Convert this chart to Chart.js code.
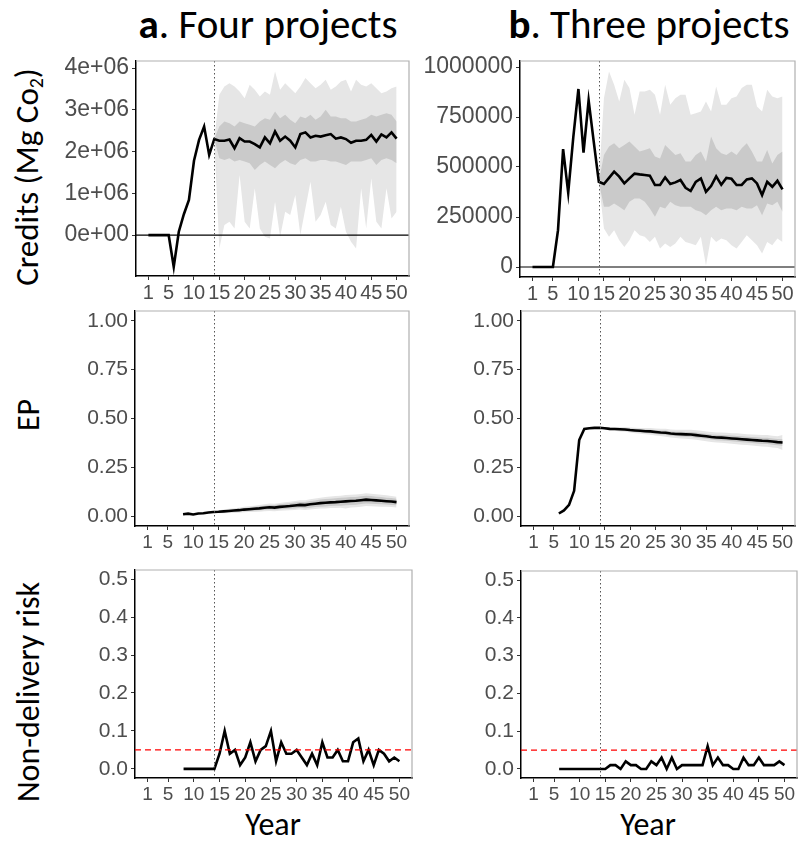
<!DOCTYPE html>
<html>
<head>
<meta charset="utf-8">
<script src="https://cdn.jsdelivr.net/npm/chart.js@4.4.1/dist/chart.umd.min.js"></script>
<style>
  body { margin: 0; background: #fff; width: 799px; height: 843px; position: relative; overflow: hidden;
         font-family: Carlito, Lato, "Open Sans", sans-serif; }
  canvas { position: absolute; }
  .lbl { position: absolute; color: #000; white-space: nowrap; line-height: 1; transform: translate(-50%, -50%); }
  .rot { transform: translate(-50%, -50%) rotate(-90deg); }
  .ttl { font-size: 41px; }
  .ytl { font-size: 32px; }
  sub { font-size: 60%; vertical-align: -0.25em; }
</style>
</head>
<body>
<div class="lbl ttl" style="left:268px;top:24px"><b>a</b>. Four projects</div>
<div class="lbl ttl" style="left:649px;top:24px"><b>b</b>. Three projects</div>
<div class="lbl rot ytl" style="left:29px;top:177px;font-size:33px">Credits (Mg Co<sub>2</sub>)</div>
<div class="lbl rot ytl" style="left:29px;top:415px">EP</div>
<div class="lbl rot ytl" style="left:29px;top:692px">Non-delivery risk</div>
<div class="lbl ytl" style="left:273px;top:825px">Year</div>
<div class="lbl ytl" style="left:648px;top:825px">Year</div>

<canvas id="creditsA" style="left:40px;top:52px" width="375" height="250"></canvas>
<canvas id="creditsB" style="left:400px;top:52px" width="399" height="250"></canvas>
<canvas id="epA" style="left:40px;top:302px" width="375" height="250"></canvas>
<canvas id="epB" style="left:400px;top:302px" width="399" height="250"></canvas>
<canvas id="riskA" style="left:40px;top:560px" width="375" height="245"></canvas>
<canvas id="riskB" style="left:400px;top:560px" width="399" height="245"></canvas>

<script>
var yearTicks = [1, 5, 10, 15, 20, 25, 30, 35, 40, 45, 50];
var projectionStart = 14;
var riskThreshold = 0.05;

// credits, panel a (years 1-50)
var creditsA = [0, 0, 0, 0, 0, -0.76e6, 0.08e6, 0.5e6, 0.84e6, 1.78e6, 2.28e6, 2.6e6, 1.92e6, 2.3e6,
  2.26e6, 2.26e6, 2.29e6, 2.08e6, 2.32e6, 2.24e6, 2.24e6, 2.18e6, 2.1e6, 2.34e6, 2.2e6, 2.48e6,
  2.26e6, 2.36e6, 2.26e6, 2.1e6, 2.42e6, 2.46e6, 2.34e6, 2.38e6, 2.36e6, 2.39e6, 2.42e6, 2.31e6,
  2.34e6, 2.3e6, 2.21e6, 2.26e6, 2.26e6, 2.28e6, 2.4e6, 2.24e6, 2.41e6, 2.34e6, 2.46e6, 2.31e6];
// bands, years 14-50
var creditsALightLo = [2.3e6, -0.32e6, 0.24e6, 0.32e6, 0.16e6, 1.44e6, 0.32e6, 0.16e6, 1.12e6, 0.16e6,
  -0.04e6, -0.08e6, 0.8e6, -0.04e6, 0.56e6, 0.48e6, 0.96e6, 0, 0.64e6, 1.28e6, 0.32e6, 0.48e6, 0.8e6,
  0.24e6, 0.16e6, 0.68e6, 0.08e6, -0.16e6, -0.32e6, 1.12e6, 0.16e6, 1.36e6, 0.32e6, 0.16e6, 1.12e6, 0.4e6, 0.56e6];
var creditsALightHi = [2.3e6, 3.36e6, 3.56e6, 3.64e6, 3.56e6, 3.44e6, 3.28e6, 3.6e6, 3.48e6, 3.32e6,
  3.44e6, 3.36e6, 3.92e6, 3.48e6, 3.64e6, 3.52e6, 3.4e6, 3.56e6, 3.76e6, 3.64e6, 3.52e6, 3.6e6, 3.72e6,
  3.48e6, 3.56e6, 3.68e6, 3.72e6, 3.44e6, 3.72e6, 3.6e6, 3.56e6, 3.64e6, 3.52e6, 3.4e6, 3.44e6, 3.52e6, 3.56e6];
var creditsADarkLo = [2.3e6, 1.84e6, 1.8e6, 1.84e6, 1.76e6, 1.8e6, 1.76e6, 1.72e6, 1.56e6, 1.68e6, 1.76e6,
  1.68e6, 1.6e6, 1.72e6, 1.8e6, 1.72e6, 1.68e6, 1.8e6, 1.84e6, 1.76e6, 1.76e6, 1.8e6, 1.8e6, 1.76e6,
  1.76e6, 1.72e6, 1.68e6, 1.76e6, 1.76e6, 1.76e6, 1.8e6, 1.84e6, 1.68e6, 1.8e6, 1.84e6, 1.8e6, 1.72e6];
var creditsADarkHi = [2.3e6, 2.6e6, 2.72e6, 2.68e6, 2.6e6, 2.72e6, 2.68e6, 2.64e6, 2.6e6, 2.72e6, 2.8e6,
  2.76e6, 2.96e6, 2.8e6, 2.88e6, 2.76e6, 2.68e6, 2.84e6, 2.8e6, 2.88e6, 2.76e6, 2.84e6, 3.0e6, 2.84e6,
  2.84e6, 2.8e6, 2.8e6, 2.72e6, 2.72e6, 2.76e6, 2.8e6, 2.88e6, 2.84e6, 2.88e6, 2.92e6, 2.88e6, 2.72e6];

// credits, panel b (years 1-50)
var creditsB = [0, 0, 0, 0, 0, 184000, 589000, 371000, 650000, 890000, 572000, 833000, 627000, 426000,
  415000, 446000, 477000, 452000, 418000, 443000, 467000, 463000, 460000, 457000, 410000, 410000,
  448000, 415000, 423000, 435000, 396000, 380000, 426000, 443000, 376000, 405000, 453000, 411000,
  445000, 441000, 410000, 410000, 438000, 443000, 418000, 360000, 426000, 401000, 431000, 388000];
var creditsBLightLo = [426000, 192000, 151000, 184000, 134000, 100000, 134000, 184000, 159000, 151000,
  125000, 151000, 92000, 117000, 100000, 117000, 151000, 125000, 117000, 109000, 151000, 8000, 151000,
  125000, 142000, 134000, 109000, 92000, 125000, 159000, 134000, 109000, 67000, 125000, 109000, 142000, 125000];
var creditsBLightHi = [426000, 844000, 978000, 911000, 828000, 936000, 895000, 761000, 878000, 878000,
  886000, 861000, 761000, 911000, 811000, 844000, 861000, 861000, 761000, 769000, 778000, 828000, 778000,
  903000, 811000, 811000, 844000, 853000, 895000, 911000, 911000, 803000, 778000, 886000, 853000, 844000, 853000];
var creditsBDarkLo = [426000, 301000, 301000, 318000, 301000, 284000, 326000, 343000, 343000, 326000,
  293000, 251000, 301000, 293000, 326000, 309000, 301000, 301000, 301000, 284000, 276000, 259000, 284000,
  301000, 284000, 293000, 293000, 284000, 301000, 293000, 293000, 309000, 259000, 318000, 309000, 326000, 276000];
var creditsBDarkHi = [426000, 560000, 602000, 619000, 594000, 610000, 627000, 602000, 577000, 585000,
  594000, 552000, 543000, 610000, 585000, 560000, 569000, 527000, 527000, 560000, 577000, 527000, 652000,
  594000, 569000, 560000, 577000, 560000, 594000, 619000, 577000, 527000, 527000, 585000, 518000, 560000, 577000];

// EP, panel a (years 8-50)
var epAStart = 8;
var epA = [0.010, 0.013, 0.009, 0.014, 0.015, 0.019, 0.022, 0.023, 0.025, 0.027, 0.029, 0.031, 0.034,
  0.036, 0.038, 0.040, 0.043, 0.046, 0.044, 0.048, 0.050, 0.052, 0.055, 0.058, 0.057, 0.061, 0.064,
  0.067, 0.069, 0.071, 0.072, 0.074, 0.076, 0.078, 0.079, 0.082, 0.085, 0.083, 0.081, 0.079, 0.077, 0.075, 0.072];
var epADarkLo = [.022, .019, .020, .021, .022, .024, .026, .027, .028, .030, .032, .034, .033, .036, .037,
  .038, .040, .043, .041, .044, .047, .049, .050, .052, .053, .054, .056, .058, .059, .062, .065, .064,
  .063, .061, .060, .058, .056];
var epADarkHi = [.022, .027, .030, .033, .036, .038, .042, .045, .048, .050, .054, .058, .057, .061, .064,
  .066, .070, .073, .073, .078, .081, .085, .088, .090, .092, .094, .096, .098, .099, .102, .105, .103,
  .100, .098, .095, .093, .089];
var epALightLo = [.022, .015, .015, .016, .017, .018, .020, .021, .022, .023, .025, .027, .025, .028, .029,
  .030, .032, .034, .032, .035, .037, .039, .040, .042, .042, .043, .040, .045, .046, .049, .052, .051,
  .050, .049, .048, .047, .045];
var epALightHi = [.022, .031, .035, .038, .041, .044, .048, .051, .054, .057, .061, .065, .064, .068, .071,
  .074, .078, .082, .082, .087, .091, .095, .098, .101, .103, .105, .108, .110, .111, .114, .117, .115,
  .112, .110, .107, .104, .100];

// EP, panel b (years 6-50)
var epBStart = 6;
var epB = [.014, .030, .058, .130, .390, .447, .450, .452, .453, .450, .447, .446, .445, .444, .441, .439,
  .437, .435, .434, .431, .428, .427, .423, .421, .420, .419, .418, .415, .412, .409, .405, .403, .402,
  .400, .398, .396, .394, .392, .390, .388, .386, .385, .382, .379, .377];
var epBDarkLo = [.453, .447, .443, .441, .439, .437, .434, .431, .429, .426, .425, .421, .418, .416, .412,
  .410, .408, .407, .405, .402, .399, .396, .392, .389, .388, .386, .383, .381, .379, .377, .375, .372,
  .370, .369, .366, .363, .360];
var epBDarkHi = [.453, .453, .451, .451, .451, .451, .448, .447, .445, .444, .443, .441, .438, .438, .434,
  .432, .432, .431, .431, .428, .425, .422, .418, .417, .416, .414, .413, .411, .409, .407, .405, .404,
  .402, .401, .398, .395, .394];
var epBLightLo = [.453, .444, .439, .437, .434, .432, .428, .425, .422, .419, .417, .413, .410, .407, .403,
  .400, .398, .396, .394, .391, .387, .384, .380, .377, .376, .373, .371, .368, .366, .364, .362, .359,
  .357, .355, .352, .349, .339];
var epBLightHi = [.453, .456, .455, .455, .456, .456, .454, .453, .452, .451, .451, .449, .447, .447, .444,
  .442, .442, .442, .442, .440, .437, .434, .431, .429, .428, .427, .425, .424, .422, .420, .418, .417,
  .415, .415, .412, .409, .415];

// non-delivery risk
var riskAStart = 8;
var riskA = [0, 0, 0, 0, 0, 0, 0, .04, .10, .04, .05, .01, .03, .07, .02, .05, .06, .10, .02, .07, .04,
  .04, .05, .03, .01, .04, .01, .07, .03, .03, .05, .02, .02, .07, .08, .02, .05, .01, .05, .04, .02, .03, .02];
var riskBStart = 6;
var riskB = [0, 0, 0, 0, 0, 0, 0, 0, 0, 0, .01, .01, 0, .02, .01, .01, 0, 0, .02, .01, .03, 0, .03, 0,
  .01, .01, .01, .01, .01, .06, .01, .03, .01, .01, 0, 0, .03, .01, .01, .03, .01, .01, .01, .02, .01];

// tick labels
var creditsATicks = [0, 1e6, 2e6, 3e6, 4e6];
var creditsATickLabels = ['0e+00', '1e+06', '2e+06', '3e+06', '4e+06'];
var creditsBTicks = [0, 250000, 500000, 750000, 1000000];
var creditsBTickLabels = ['0', '250000', '500000', '750000', '1000000'];
var epTicks = [0, 0.25, 0.5, 0.75, 1];
var epTickLabels = ['0.00', '0.25', '0.50', '0.75', '1.00'];
var riskTicks = [0, 0.1, 0.2, 0.3, 0.4, 0.5];
var riskTickLabels = ['0.0', '0.1', '0.2', '0.3', '0.4', '0.5'];

var LIGHT = '#e6e6e6', DARK = '#cacaca';
var TICK_GREY = '#4d4d4d';

function pts(start, arr) {
  return arr.map(function (v, i) { return { x: start + i, y: v }; });
}

// Chart.js paints the last dataset first, so: line, dark band, light band
function band(hi, lo, color) {
  return [
    { data: pts(projectionStart, hi), borderWidth: 0, pointRadius: 0, fill: '+1', backgroundColor: color },
    { data: pts(projectionStart, lo), borderWidth: 0, pointRadius: 0, fill: false }
  ];
}

function mainLine(start, arr) {
  return { data: pts(start, arr), borderColor: '#000', borderWidth: 2.6, pointRadius: 0, fill: false, tension: 0 };
}

var refLines = {
  id: 'refLines',
  afterDatasetsDraw: function (chart, args, o) {
    var ctx = chart.ctx, a = chart.chartArea;
    ctx.save();
    ctx.beginPath(); ctx.rect(a.left, a.top, a.width, a.height); ctx.clip();
    if (o.hline !== undefined) {
      var y = chart.scales.y.getPixelForValue(o.hline);
      ctx.strokeStyle = o.hlineColor; ctx.lineWidth = o.hlineWidth; ctx.setLineDash(o.hlineDash);
      ctx.beginPath(); ctx.moveTo(a.left, y); ctx.lineTo(a.right, y); ctx.stroke();
    }
    var x = Math.round(chart.scales.x.getPixelForValue(projectionStart)) + 0.5;
    ctx.strokeStyle = '#555'; ctx.lineWidth = 1; ctx.setLineDash([1.5, 2.5]);
    ctx.beginPath(); ctx.moveTo(x, a.top); ctx.lineTo(x, a.bottom); ctx.stroke();
    ctx.restore();
    ctx.save();
    ctx.strokeStyle = '#b0b0b0'; ctx.lineWidth = 1.2;
    ctx.beginPath(); ctx.moveTo(a.left, a.top); ctx.lineTo(a.right, a.top); ctx.lineTo(a.right, a.bottom); ctx.stroke();
    ctx.restore();
  }
};

function makePanel(id, p) {
  new Chart(document.getElementById(id), {
    type: 'line',
    data: { datasets: p.datasets },
    plugins: [refLines],
    options: {
      responsive: false,
      animation: false,
      events: [],
      layout: { padding: { top: p.padTop, right: p.padRight, left: 0, bottom: 0 } },
      plugins: {
        legend: { display: false },
        tooltip: { enabled: false },
        refLines: p.ref
      },
      scales: {
        x: {
          type: 'linear', min: -1.45, max: 52.45,
          afterBuildTicks: function (s) { s.ticks = yearTicks.map(function (v) { return { value: v }; }); },
          afterFit: function (s) { s.height = p.xHeight; s.paddingLeft = 0; s.paddingRight = 0; },
          ticks: { autoSkip: false, maxRotation: 0, padding: 1, color: TICK_GREY,
                   font: { family: '"Liberation Sans", Arial', size: p.xFont },
                   callback: function (v) { return String(v); } },
          grid: { drawOnChartArea: false, drawTicks: true, tickLength: 4, color: '#333' },
          border: { display: true, color: '#000', width: 1.5 }
        },
        y: {
          type: 'linear', min: p.yMin, max: p.yMax,
          afterBuildTicks: function (s) { s.ticks = p.yTicks.map(function (v) { return { value: v }; }); },
          afterFit: function (s) { s.width = p.yWidth; s.paddingTop = 0; s.paddingBottom = 0; },
          ticks: { autoSkip: false, padding: 3, color: TICK_GREY,
                   font: { family: '"Liberation Sans", Arial', size: p.yFont },
                   callback: function (v, i) { return p.yLabels[i]; } },
          grid: { drawOnChartArea: false, drawTicks: true, tickLength: 4, color: '#333' },
          border: { display: true, color: '#000', width: 1.5 }
        }
      }
    }
  });
}

var zeroLine = { hline: 0, hlineColor: '#000', hlineWidth: 1.2, hlineDash: [] };
var redLine = { hline: riskThreshold, hlineColor: '#ff0000', hlineWidth: 1.2, hlineDash: [6, 4] };

makePanel('creditsA', {
  datasets: [mainLine(1, creditsA)].concat(band(creditsADarkHi, creditsADarkLo, DARK), band(creditsALightHi, creditsALightLo, LIGHT)),
  yMin: -0.98e6, yMax: 4.17e6, yTicks: creditsATicks, yLabels: creditsATickLabels,
  yWidth: 96, xHeight: 26, padTop: 9, padRight: 6, xFont: 20, yFont: 23, ref: zeroLine
});
makePanel('creditsB', {
  datasets: [mainLine(1, creditsB)].concat(band(creditsBDarkHi, creditsBDarkLo, DARK), band(creditsBLightHi, creditsBLightLo, LIGHT)),
  yMin: -50000, yMax: 1030000, yTicks: creditsBTicks, yLabels: creditsBTickLabels,
  yWidth: 120, xHeight: 25, padTop: 9, padRight: 4, xFont: 20, yFont: 23, ref: zeroLine
});
makePanel('epA', {
  datasets: [mainLine(epAStart, epA)].concat(band(epADarkHi, epADarkLo, DARK), band(epALightHi, epALightLo, LIGHT)),
  yMin: -0.05, yMax: 1.05, yTicks: epTicks, yLabels: epTickLabels,
  yWidth: 95, xHeight: 26, padTop: 9, padRight: 6, xFont: 19, yFont: 21, ref: {}
});
makePanel('epB', {
  datasets: [mainLine(epBStart, epB)].concat(band(epBDarkHi, epBDarkLo, DARK), band(epBLightHi, epBLightLo, LIGHT)),
  yMin: -0.05, yMax: 1.05, yTicks: epTicks, yLabels: epTickLabels,
  yWidth: 121, xHeight: 26, padTop: 9, padRight: 4, xFont: 19, yFont: 21, ref: {}
});
makePanel('riskA', {
  datasets: [mainLine(riskAStart, riskA)],
  yMin: -0.024, yMax: 0.524, yTicks: riskTicks, yLabels: riskTickLabels,
  yWidth: 95, xHeight: 27, padTop: 10, padRight: 3, xFont: 19, yFont: 21, ref: redLine
});
makePanel('riskB', {
  datasets: [mainLine(riskBStart, riskB)],
  yMin: -0.024, yMax: 0.524, yTicks: riskTicks, yLabels: riskTickLabels,
  yWidth: 121, xHeight: 27, padTop: 11, padRight: 2, xFont: 19, yFont: 21, ref: redLine
});
</script>
</body>
</html>
